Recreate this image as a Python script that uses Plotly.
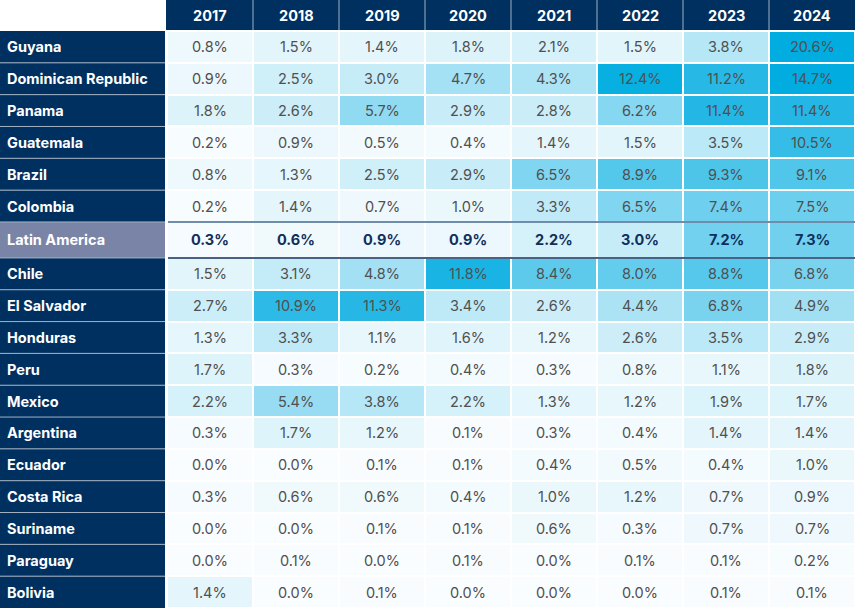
import plotly.graph_objects as go

years = ["2017", "2018", "2019", "2020", "2021", "2022", "2023", "2024"]
countries = ["Guyana", "Dominican Republic", "Panama", "Guatemala", "Brazil", "Colombia",
             "Latin America", "Chile", "El Salvador", "Honduras", "Peru", "Mexico",
             "Argentina", "Ecuador", "Costa Rica", "Suriname", "Paraguay", "Bolivia"]

guyana = [0.8, 1.5, 1.4, 1.8, 2.1, 1.5, 3.8, 20.6]
dominican_republic = [0.9, 2.5, 3.0, 4.7, 4.3, 12.4, 11.2, 14.7]
panama = [1.8, 2.6, 5.7, 2.9, 2.8, 6.2, 11.4, 11.4]
guatemala = [0.2, 0.9, 0.5, 0.4, 1.4, 1.5, 3.5, 10.5]
brazil = [0.8, 1.3, 2.5, 2.9, 6.5, 8.9, 9.3, 9.1]
colombia = [0.2, 1.4, 0.7, 1.0, 3.3, 6.5, 7.4, 7.5]
latin_america = [0.3, 0.6, 0.9, 0.9, 2.2, 3.0, 7.2, 7.3]
chile = [1.5, 3.1, 4.8, 11.8, 8.4, 8.0, 8.8, 6.8]
el_salvador = [2.7, 10.9, 11.3, 3.4, 2.6, 4.4, 6.8, 4.9]
honduras = [1.3, 3.3, 1.1, 1.6, 1.2, 2.6, 3.5, 2.9]
peru = [1.7, 0.3, 0.2, 0.4, 0.3, 0.8, 1.1, 1.8]
mexico = [2.2, 5.4, 3.8, 2.2, 1.3, 1.2, 1.9, 1.7]
argentina = [0.3, 1.7, 1.2, 0.1, 0.3, 0.4, 1.4, 1.4]
ecuador = [0.0, 0.0, 0.1, 0.1, 0.4, 0.5, 0.4, 1.0]
costa_rica = [0.3, 0.6, 0.6, 0.4, 1.0, 1.2, 0.7, 0.9]
suriname = [0.0, 0.0, 0.1, 0.1, 0.6, 0.3, 0.7, 0.7]
paraguay = [0.0, 0.1, 0.0, 0.1, 0.0, 0.1, 0.1, 0.2]
bolivia = [1.4, 0.0, 0.1, 0.0, 0.0, 0.0, 0.1, 0.1]

z = [guyana, dominican_republic, panama, guatemala, brazil, colombia, latin_america,
     chile, el_salvador, honduras, peru, mexico, argentina, ecuador, costa_rica,
     suriname, paraguay, bolivia]

W, H = 855, 608
LABEL_W = 165
HEAD_H = 30
la_idx = countries.index("Latin America")
xs = list(range(len(years)))

# row heights (the Latin America row is a bit taller)
heights = [1.13 if c == "Latin America" else 1.0 for c in countries]
edges = [0.0]
for h in heights:
    edges.append(edges[-1] + h)
centers = [(edges[i] + edges[i + 1]) / 2 for i in range(len(countries))]

navy = "#00305f"
scale = [
    [0.0, "#fafdff"],
    [1.5 / 14, "#e2f5fb"],
    [3.0 / 14, "#c6ecf8"],
    [5.0 / 14, "#9fdff3"],
    [7.0 / 14, "#75d2ef"],
    [9.0 / 14, "#52c7ea"],
    [11.5 / 14, "#22b6e5"],
    [12.5 / 14, "#05aee0"],
    [1.0, "#00ace0"],
]

fig = go.Figure(go.Heatmap(
    z=z, x=xs, y=edges,   # y given as row edges so Latin America can be taller
    zmin=0, zmax=14, colorscale=scale, showscale=False,
    xgap=2, ygap=2, hoverinfo="skip",
))

shapes = []
annotations = []

# header band
shapes.append(dict(type="rect", xref="paper", yref="paper",
                   x0=166 / W, x1=1, y0=1 - HEAD_H / H, y1=1,
                   fillcolor=navy, line_width=0, layer="below"))
for i in xs[:-1]:
    shapes.append(dict(type="line", xref="x", yref="paper",
                       x0=i + 0.5, x1=i + 0.5, y0=1 - HEAD_H / H, y1=1,
                       line=dict(color="#9fb0c4", width=1)))
for i, yr in zip(xs, years):
    annotations.append(dict(x=i, y=1 - (HEAD_H / 2 + 0.5) / H, xref="x", yref="paper",
                            yanchor="middle", text="<b>%s</b>" % yr, showarrow=False,
                            font=dict(family="Inter", size=14.5, color="white")))

# label column
for i, c in enumerate(countries):
    shapes.append(dict(type="rect", xref="paper", yref="y",
                       x0=0, x1=LABEL_W / W, y0=edges[i], y1=edges[i + 1],
                       fillcolor="#7a84a6" if i == la_idx else navy,
                       line_width=0, layer="below"))
    annotations.append(dict(x=5 / W, y=centers[i], xref="paper", yref="y",
                            xanchor="left", yanchor="middle", text="<b>%s</b>" % c,
                            showarrow=False,
                            font=dict(family="Inter", size=14.5, color="white")))
for e in edges[1:-1]:
    shapes.append(dict(type="line", xref="paper", yref="y",
                       x0=0, x1=LABEL_W / W, y0=e, y1=e,
                       line=dict(color="#a3b1c2", width=1)))

# separators around the Latin America row
shapes.append(dict(type="line", xref="paper", yref="y", x0=168 / W, x1=1,
                   y0=edges[la_idx], y1=edges[la_idx],
                   line=dict(color="#6f8cab", width=2)))
shapes.append(dict(type="line", xref="paper", yref="y", x0=168 / W, x1=1,
                   y0=edges[la_idx + 1], y1=edges[la_idx + 1],
                   line=dict(color="#0c2c5a", width=1.5)))

# cell values
for i, row in enumerate(z):
    for j, v in enumerate(row):
        if i == la_idx:
            txt, col = "<b>%.1f%%</b>" % v, "#0f2f5c"
        else:
            txt, col = "%.1f%%" % v, "#505050"
        annotations.append(dict(x=xs[j], y=centers[i], xref="x", yref="y",
                                text=txt, showarrow=False,
                                font=dict(family="Inter", size=14.5, color=col)))

fig.update_layout(
    width=W, height=H,
    margin=dict(l=0, r=0, t=0, b=0),
    paper_bgcolor="white", plot_bgcolor="white",
    xaxis=dict(range=[-0.5, len(years) - 0.5], domain=[167 / W, 1], showticklabels=False,
               showgrid=False, zeroline=False, fixedrange=True),
    yaxis=dict(range=[edges[-1], 0], domain=[0, 1 - (HEAD_H + 1) / H],
               showticklabels=False, showgrid=False, zeroline=False, fixedrange=True),
    shapes=shapes,
    annotations=annotations,
    showlegend=False,
)

fig.write_html("out.html", config={"displayModeBar": False},
               post_script="document.body.style.margin='0';")
